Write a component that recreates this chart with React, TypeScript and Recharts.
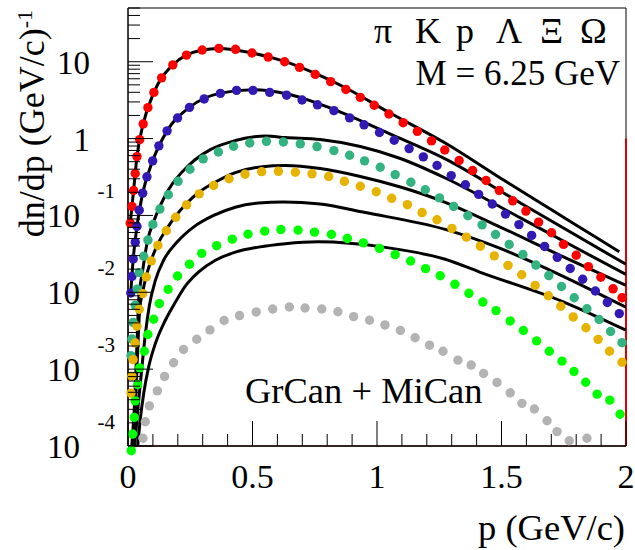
import React from 'react';
import { ComposedChart, Line, XAxis, YAxis, ReferenceArea, ReferenceLine } from 'recharts';

// ---------- model points (markers) ----------
const piDotsX = [0.009,0.016,0.0225,0.029,0.036,0.047,0.061,0.080,0.104,0.135,0.180,0.235,0.298,0.365,0.432,0.498,0.563,0.629,0.689,0.752,0.814,0.875,0.933,0.989,1.048,1.105,1.162,1.219,1.272,1.330,1.384,1.438,1.491,1.545,1.598,1.649,1.701,1.749,1.800,1.849,1.899,1.948,1.984];
const piDotsY = [0.0794,0.131,0.211,0.351,0.583,0.970,1.55,2.53,3.99,6.17,9.08,12.2,14.2,14.9,14.5,13.0,11.5,10.0,8.43,6.84,5.50,4.36,3.44,2.71,2.09,1.61,1.24,0.933,0.710,0.518,0.384,0.285,0.211,0.155,0.114,0.0818,0.0596,0.0420,0.0303,0.0216,0.0157,0.0111,0.00849];

const kDotsX = [0.011,0.016,0.021,0.029,0.036,0.045,0.059,0.076,0.099,0.124,0.157,0.199,0.247,0.306,0.371,0.436,0.502,0.569,0.637,0.699,0.761,0.827,0.890,0.948,1.010,1.069,1.129,1.186,1.241,1.298,1.355,1.408,1.463,1.516,1.570,1.621,1.673,1.724,1.776,1.826,1.877,1.925,1.973];
const kDotsY = [0.0098,0.0161,0.0272,0.0449,0.0719,0.117,0.195,0.318,0.513,0.804,1.26,1.85,2.55,3.28,3.87,4.24,4.24,3.99,3.67,3.18,2.75,2.31,1.86,1.51,1.20,0.950,0.741,0.578,0.446,0.330,0.251,0.188,0.141,0.104,0.0760,0.0550,0.0395,0.0285,0.0204,0.0148,0.0104,0.00738,0.00528];

const pDotsX = [0.012,0.016,0.0205,0.029,0.037,0.045,0.063,0.080,0.100,0.128,0.162,0.201,0.249,0.302,0.363,0.424,0.489,0.556,0.624,0.692,0.759,0.827,0.890,0.950,1.013,1.073,1.136,1.194,1.251,1.308,1.365,1.422,1.476,1.531,1.586,1.638,1.690,1.741,1.792,1.843,1.892,1.938,1.984];
const pDotsY = [0.00150,0.00247,0.00406,0.00678,0.0110,0.0180,0.0294,0.0478,0.0764,0.121,0.186,0.278,0.399,0.544,0.668,0.794,0.875,0.921,0.902,0.853,0.787,0.698,0.607,0.513,0.424,0.340,0.270,0.216,0.169,0.131,0.0991,0.0754,0.0564,0.0418,0.0310,0.0226,0.0165,0.0119,0.00849,0.00611,0.00442,0.00309,0.00221];

const lamDotsX = [0.012,0.016,0.0205,0.0285,0.036,0.045,0.0586,0.0735,0.0936,0.120,0.154,0.192,0.235,0.286,0.344,0.406,0.470,0.537,0.604,0.672,0.739,0.806,0.869,0.933,0.997,1.059,1.122,1.181,1.241,1.301,1.359,1.415,1.471,1.526,1.581,1.635,1.688,1.738,1.788,1.839,1.888,1.934,1.984];
const lamDotsY = [0.000488,0.000811,0.00133,0.00220,0.00361,0.00601,0.00962,0.0158,0.0255,0.0407,0.0632,0.0948,0.137,0.191,0.245,0.300,0.344,0.371,0.375,0.365,0.348,0.321,0.278,0.240,0.203,0.167,0.138,0.109,0.0879,0.0678,0.0522,0.0398,0.0298,0.0224,0.0169,0.0123,0.00902,0.00658,0.00478,0.00346,0.00244,0.00171,0.00123];

const xiDotsX = [0.013,0.0185,0.025,0.029,0.039,0.047,0.0655,0.080,0.103,0.126,0.161,0.199,0.247,0.296,0.356,0.419,0.482,0.549,0.614,0.683,0.749,0.817,0.881,0.945,1.010,1.073,1.135,1.195,1.254,1.313,1.369,1.425,1.478,1.535,1.588,1.641,1.692,1.743,1.791,1.838,1.884,1.935,1.976];
const xiDotsY = [0.0000869,0.000143,0.000236,0.000387,0.000632,0.00104,0.00171,0.00282,0.00446,0.00713,0.0109,0.0163,0.0232,0.0321,0.0404,0.0491,0.0571,0.0625,0.0655,0.0644,0.0607,0.0566,0.0502,0.0440,0.0372,0.0309,0.0255,0.0203,0.0164,0.0127,0.00970,0.00746,0.00578,0.00424,0.00318,0.00233,0.00171,0.00127,0.000933,0.000675,0.000473,0.000395,0.000259];

const omDotsX = [0.060,0.0695,0.086,0.118,0.147,0.183,0.223,0.276,0.329,0.386,0.448,0.515,0.581,0.648,0.711,0.778,0.843,0.906,0.970,1.032,1.094,1.153,1.211,1.265,1.325,1.378,1.428,1.482,1.535,1.582,1.632,1.683,1.723,1.772,1.843];
const omDotsY = [0.000126,0.000207,0.000333,0.000522,0.000804,0.00121,0.00180,0.00245,0.00324,0.00429,0.00498,0.00555,0.00607,0.00643,0.00624,0.00607,0.00558,0.00483,0.00433,0.00376,0.00318,0.00256,0.00205,0.00171,0.00131,0.00113,0.000879,0.000671,0.000492,0.000359,0.000303,0.000213,0.000154,0.000117,0.000126];

// ---------- reference curves (black lines) ----------
const piCurveX = [0.009,0.0225,0.036,0.061,0.104,0.180,0.298,0.365,0.498,0.629,0.752,0.873,1.049,1.274,1.495,1.696,1.897,1.973];
const piCurveY = [0.0794,0.211,0.583,1.55,3.99,9.08,14.2,14.9,13.0,10.1,7.03,4.59,2.18,0.875,0.307,0.121,0.0478,0.0336];

const kCurveX = [0.011,0.021,0.036,0.059,0.099,0.157,0.247,0.371,0.502,0.636,0.826,1.049,1.274,1.576,2.0];
const kCurveY = [0.0098,0.0272,0.0719,0.195,0.513,1.26,2.55,3.90,4.33,3.84,2.40,1.16,0.544,0.145,0.0231];

const pCurveX = [0.015,0.027,0.035,0.043,0.059,0.076,0.110,0.161,0.247,0.331,0.431,0.554,0.632,0.772,0.933,1.094,1.274,1.576,1.795,2.0];
const pCurveY = [0.0001,0.000395,0.00177,0.00787,0.0193,0.0429,0.0951,0.211,0.459,0.719,0.942,1.08,1.03,0.970,0.787,0.550,0.307,0.0929,0.0385,0.0171];

const lamCurveX = [0.023,0.031,0.039,0.047,0.0586,0.0735,0.0936,0.120,0.154,0.192,0.235,0.286,0.344,0.431,0.531,0.632,0.772,0.933,1.094,1.274,1.495,1.735,2.0];
const lamCurveY = [0.0001,0.000395,0.00177,0.00601,0.0100,0.0164,0.0264,0.0427,0.0658,0.0986,0.143,0.202,0.264,0.361,0.427,0.446,0.407,0.321,0.234,0.148,0.0705,0.0303,0.0123];

const xiCurveX = [0.027,0.031,0.043,0.056,0.070,0.086,0.110,0.143,0.197,0.263,0.344,0.431,0.524,0.624,0.772,0.953,1.274,1.495,1.696,2.0];
const xiCurveY = [0.0001,0.000146,0.000395,0.00107,0.00291,0.00678,0.0143,0.0261,0.0450,0.0705,0.100,0.128,0.145,0.150,0.141,0.109,0.0658,0.0372,0.0193,0.00638];

const omCurveX = [0.039,0.049,0.063,0.083,0.110,0.150,0.190,0.230,0.284,0.351,0.431,0.524,0.632,0.764,1.033,1.274,1.415,1.743,2.0];
const omCurveY = [0.0001,0.000218,0.000483,0.00107,0.00216,0.00433,0.00741,0.0120,0.0184,0.0261,0.0333,0.0387,0.0429,0.0453,0.0384,0.0269,0.0182,0.00764,0.00321];

// ---------- axes ----------
const xTicks = [0,0.1,0.2,0.3,0.4,0.5,0.6,0.7,0.8,0.9,1,1.1,1.2,1.3,1.4,1.5,1.6,1.7,1.8,1.9,2];
const xMajor = [0, 0.5, 1, 1.5, 2];
const xMajorLabels = ['0', '0.5', '1', '1.5', '2'];
const yDecades = [1e-4, 1e-3, 1e-2, 1e-1, 1, 10];
const yDecadeBase = ['10', '10', '10', '10', '1', '10'];
const yDecadeExp = ['-4', '-3', '-2', '-1', '', ''];
const particleLabels = ['π', 'K', 'p', 'Λ', 'Ξ', 'Ω'];
const particleColors = ['#ff0000', '#3319b3', '#33b380', '#e6b300', '#00ff00', '#b3b3b3'];

const yTicks: number[] = [];
yDecades.forEach((d) => {
  for (let k = 1; k <= 9; k++) {
    const v = k * d;
    if (v <= 50) yTicks.push(v);
  }
});

const zip = (xs: number[], ys: number[]) => xs.map((x, i) => ({ x, y: ys[i] }));

const dotSeries = [
  zip(piDotsX, piDotsY),
  zip(kDotsX, kDotsY),
  zip(pDotsX, pDotsY),
  zip(lamDotsX, lamDotsY),
  zip(xiDotsX, xiDotsY),
  zip(omDotsX, omDotsY),
];
const curveSeries = [
  zip(piCurveX, piCurveY),
  zip(kCurveX, kCurveY),
  zip(pCurveX, pCurveY),
  zip(lamCurveX, lamCurveY),
  zip(xiCurveX, xiCurveY),
  zip(omCurveX, omCurveY),
];

const FONT = "'Liberation Serif', 'Times New Roman', Times, serif";

const XTick = (props: any) => {
  const { x, y, payload } = props;
  const v = payload.value as number;
  const idx = xMajor.findIndex((m) => Math.abs(m - v) < 1e-6);
  const major = idx >= 0;
  return (
    <g>
      <line x1={x} y1={y} x2={x} y2={y - (major ? 25 : 12)} stroke="#000" strokeWidth={1} />
      {major && (
        <text x={x} y={y + 42} textAnchor="middle" fontFamily={FONT} fontSize={34} fill="#000">
          {xMajorLabels[idx]}
        </text>
      )}
    </g>
  );
};

const YTick = (props: any) => {
  const { x, y, payload } = props;
  const v = payload.value as number;
  const idx = yDecades.findIndex((d) => Math.abs(d - v) / d < 1e-6);
  const major = idx >= 0;
  const exp = major ? yDecadeExp[idx] : '';
  return (
    <g>
      <line x1={x} y1={y} x2={x + (major ? 25 : 12)} y2={y} stroke="#000" strokeWidth={1} />
      {major && (
        <text x={exp ? 80 : 90} y={y + 12} textAnchor="end" fontFamily={FONT} fontSize={33} fill="#000">
          {yDecadeBase[idx]}
        </text>
      )}
      {major && exp && (
        <text x={115} y={y - 17} textAnchor="end" fontFamily={FONT} fontSize={21} fill="#000">
          {exp}
        </text>
      )}
    </g>
  );
};

const particleX = [374, 415, 456, 496, 540, 580];

export default function App() {
  return (
    <div style={{ position: 'absolute', left: 0, top: 0, width: 635, height: 550, background: '#fff' }}>
      <ComposedChart width={635} height={550} margin={{ top: 8, right: 9, bottom: 0, left: 0 }}>
        <XAxis
          dataKey="x"
          type="number"
          domain={[0, 2]}
          allowDataOverflow
          ticks={xTicks}
          interval={0}
          tickSize={0}
          tickMargin={0}
          tickLine={false}
          tick={(p: any) => <XTick {...p} />}
          axisLine={{ stroke: '#000', strokeWidth: 1 }}
          height={104}
        />
        <YAxis
          type="number"
          scale="log"
          domain={[1e-4, 50]}
          allowDataOverflow
          ticks={yTicks}
          interval={0}
          tickSize={0}
          tickMargin={0}
          tickLine={false}
          tick={(p: any) => <YTick {...p} />}
          axisLine={{ stroke: '#000', strokeWidth: 1 }}
          width={128}
        />
        <ReferenceArea x1={0} x2={2} y1={1e-4} y2={50} fill="none" stroke="#000" strokeWidth={1} />
        <ReferenceLine segment={[{ x: 0, y: 1 }, { x: 0, y: 1e-4 }]} stroke="#6e1a1a" strokeWidth={1.2} />
        <ReferenceLine segment={[{ x: 0, y: 1e-4 }, { x: 2, y: 1e-4 }]} stroke="#5a1414" strokeWidth={1.2} />
        <ReferenceLine segment={[{ x: 2, y: 1 }, { x: 2, y: 1e-4 }]} stroke="#e00000" strokeWidth={2} />
        {curveSeries.map((d, i) => (
          <Line
            key={'c' + i}
            data={d}
            dataKey="y"
            type="monotone"
            stroke="#000"
            strokeWidth={3}
            dot={false}
            activeDot={false}
            isAnimationActive={false}
          />
        ))}
        {dotSeries.map((d, i) => (
          <Line
            key={'d' + i}
            data={d}
            dataKey="y"
            stroke="none"
            dot={{ r: 4.7, fill: particleColors[i], stroke: 'none', strokeWidth: 12, clipDot: false } as any}
            activeDot={false}
            isAnimationActive={false}
          />
        ))}
      </ComposedChart>
      <svg width={635} height={550} style={{ position: 'absolute', left: 0, top: 0, pointerEvents: 'none' }}>
        {particleLabels.map((t, i) => (
          <text key={t} x={particleX[i]} y={43} fontFamily={FONT} fontSize={36} fill="#000">
            {t}
          </text>
        ))}
        <text x={620} y={85} textAnchor="end" fontFamily={FONT} fontSize={35} fill="#000">
          M = 6.25 GeV
        </text>
        <text x={245} y={403} fontFamily={FONT} fontSize={36.5} fill="#000">
          GrCan + MiCan
        </text>
        <text x={625} y={540} textAnchor="end" fontFamily={FONT} fontSize={36.5} fill="#000">
          p (GeV/c)
        </text>
        <text transform="translate(44,10) rotate(-90)" textAnchor="end" fontFamily={FONT} fontSize={36} fill="#000">
          dn/dp (GeV/c)
          <tspan dy={-12} fontSize={22}>-1</tspan>
        </text>
      </svg>
    </div>
  );
}
